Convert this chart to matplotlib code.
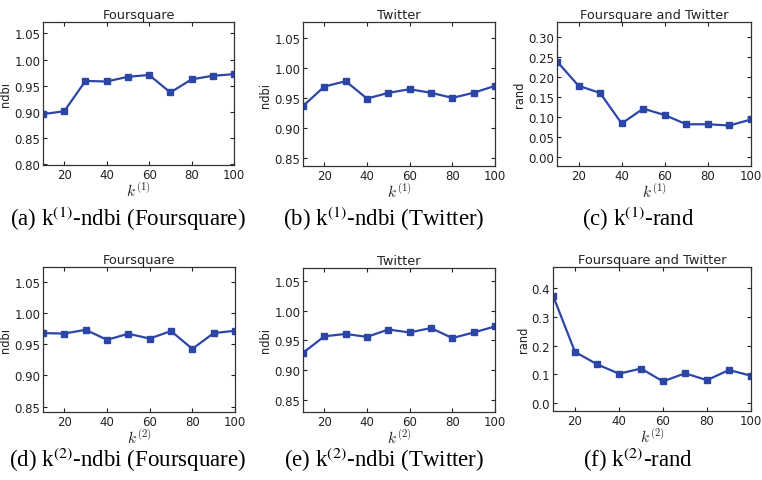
import matplotlib
matplotlib.use("Agg")
import matplotlib.pyplot as plt

k_values = [10, 20, 30, 40, 50, 60, 70, 80, 90, 100]

ndbi_k1_foursquare = [0.8955, 0.901, 0.959, 0.958, 0.967, 0.9705, 0.937, 0.962, 0.969, 0.972]
ndbi_k1_twitter = [0.937, 0.9694, 0.9783, 0.9494, 0.9589, 0.965, 0.959, 0.9506, 0.959, 0.9706]
rand_k1 = [0.2385, 0.178, 0.160, 0.084, 0.121, 0.105, 0.082, 0.082, 0.079, 0.094]

ndbi_k2_foursquare = [0.9677, 0.967, 0.973, 0.957, 0.9667, 0.959, 0.971, 0.9425, 0.9677, 0.9715]
ndbi_k2_twitter = [0.929, 0.957, 0.961, 0.956, 0.9685, 0.9635, 0.971, 0.954, 0.9635, 0.9736]
rand_k2 = [0.374, 0.178, 0.135, 0.102, 0.120, 0.075, 0.1035, 0.0795, 0.115, 0.095]

titles = ["Foursquare", "Twitter", "Foursquare and Twitter",
          "Foursquare", "Twitter", "Foursquare and Twitter"]
ylabels = ["ndbi", "ndbi", "rand", "ndbi", "ndbi", "rand"]
xlabels = ["$k^{(1)}$"] * 3 + ["$k^{(2)}$"] * 3
captions = ["(a) k$^{(1)}$-ndbi (Foursquare)", "(b) k$^{(1)}$-ndbi (Twitter)",
            "(c) k$^{(1)}$-rand",
            "(d) k$^{(2)}$-ndbi (Foursquare)", "(e) k$^{(2)}$-ndbi (Twitter)",
            "(f) k$^{(2)}$-rand"]
yticks = [[0.80, 0.85, 0.90, 0.95, 1.00, 1.05],
          [0.85, 0.90, 0.95, 1.00, 1.05],
          [0.00, 0.05, 0.10, 0.15, 0.20, 0.25, 0.30],
          [0.85, 0.90, 0.95, 1.00, 1.05],
          [0.85, 0.90, 0.95, 1.00, 1.05],
          [0.0, 0.1, 0.2, 0.3, 0.4]]
ylims = [(0.798, 1.072), (0.837, 1.077), (-0.022, 0.337),
         (0.8415, 1.0735), (0.829, 1.0725), (-0.028, 0.474)]
yfmt = ["%.2f"] * 5 + ["%.1f"]
series = [ndbi_k1_foursquare, ndbi_k1_twitter, rand_k1,
          ndbi_k2_foursquare, ndbi_k2_twitter, rand_k2]

W, H = 762, 481
# axes boxes in pixels: left, right, top, bottom
boxes = [(43, 234, 23, 166), (303, 495, 23, 167), (557, 751, 23, 167),
         (43, 235, 268, 413), (303, 495, 269, 413), (553, 751, 268, 412)]
ylabel_offsets = [-37, -37, -37, -37, -37, -30]
caption_pos = [(128, 219), (384, 219), (638, 219),
               (128, 460), (384, 460), (638, 460)]

fig = plt.figure(figsize=(W / 100, H / 100), dpi=100)
color = "#2c46a8"
for i in range(6):
    l, r, t, b = boxes[i]
    ax = fig.add_axes([l / W, 1 - b / H, (r - l) / W, (b - t) / H])
    ax.plot(k_values, series[i], color=color, marker="s", markersize=5,
            linewidth=1.6, markeredgecolor=color)
    ax.set_xlim(10, 100)
    ax.set_xticks([20, 40, 60, 80, 100])
    ax.set_ylim(*ylims[i])
    ax.set_yticks(yticks[i])
    ax.set_yticklabels([yfmt[i] % v for v in yticks[i]])
    ax.tick_params(direction="in", top=True, right=True, labelsize=8.5,
                   length=3, width=0.8, colors="#222222", pad=2)
    for s in ax.spines.values():
        s.set_color("#333333")
        s.set_linewidth(0.9)
    ax.set_title(titles[i], fontsize=9.3, pad=3, color="#222222")
    ax.set_ylabel(ylabels[i], fontsize=8.3, color="#222222", va="center")
    ax.yaxis.set_label_coords(ylabel_offsets[i] / (r - l), 0.5)
    ax.set_xlabel(xlabels[i], fontsize=11, labelpad=0, color="#222222",
                  math_fontfamily="cm")
    cx, cy = caption_pos[i]
    fig.text(cx / W, 1 - cy / H, captions[i], ha="center", va="center",
             fontsize=16.5, family="Liberation Serif", math_fontfamily="stix")

fig.savefig("out.png", dpi=100)
